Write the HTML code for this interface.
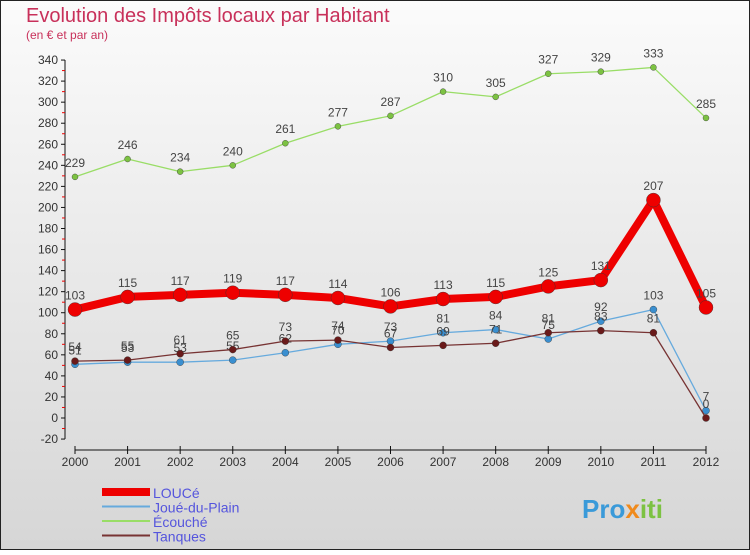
<!DOCTYPE html>
<html><head><meta charset="utf-8"><style>
body{margin:0;width:750px;height:550px;overflow:hidden;font-family:"Liberation Sans",sans-serif}
</style></head><body>
<svg width="750" height="550" xmlns="http://www.w3.org/2000/svg">
<defs><linearGradient id="bg" x1="0" y1="0" x2="0" y2="1"><stop offset="0" stop-color="#fbfbfb"/><stop offset="1" stop-color="#d6d6d6"/></linearGradient></defs>
<rect x="0.5" y="0.5" width="749" height="549" fill="url(#bg)" stroke="#222"/>
<text x="26" y="22" font-size="20" fill="#c8305a">Evolution des Impôts locaux par Habitant</text>
<text x="26" y="39" font-size="12" fill="#c8305a">(en € et par an)</text>
<g id="axes"></g><g id="series"></g><g id="legend"></g>
<text x="582" y="518" font-size="26" font-weight="bold" fill="#3a9ad9">Pro<tspan fill="#f08a1c">x</tspan><tspan fill="#7cc242">iti</tspan></text>
</svg>
<script>
const years=["2000","2001","2002","2003","2004","2005","2006","2007","2008","2009","2010","2011","2012"];
const yTicks=[-20,0,20,40,60,80,100,120,140,160,180,200,220,240,260,280,300,320,340];
const loucE=[103,115,117,119,117,114,106,113,115,125,131,207,105];
const joue=[51,53,53,55,62,70,73,81,84,75,92,103,7];
const ecouche=[229,246,234,240,261,277,287,310,305,327,329,333,285];
const tanques=[54,55,61,65,73,74,67,69,71,81,83,81,0];
const NS="http://www.w3.org/2000/svg";
const X=i=>75+i*(706-75)/12;
const Y=v=>418-v*1.0528;
function mk(t,a,p,txt){const e=document.createElementNS(NS,t);for(const k in a)e.setAttribute(k,a[k]);if(txt!==undefined)e.textContent=txt;p.appendChild(e);return e;}
const ax=document.getElementById('axes');
let e=mk('line',{x1:65,y1:Y(340),x2:65,y2:Y(-20),stroke:'#111'},ax);

e=mk('line',{x1:X(0),y1:450,x2:X(12),y2:450,stroke:'#111'},ax);

yTicks.forEach(v=>{mk('line',{x1:61,y1:Y(v),x2:65,y2:Y(v),stroke:'#111'},ax);
 if(v<340)mk('line',{x1:62,y1:Y(v+10),x2:65,y2:Y(v+10),stroke:'#e00'},ax);
 e=mk('text',{x:58,y:Y(v)+4,'font-size':12,fill:'#333','text-anchor':'end'},ax,v);
 });
years.forEach((y,i)=>{mk('line',{x1:X(i),y1:446,x2:X(i),y2:454,stroke:'#111'},ax);
 e=mk('text',{x:X(i),y:466,'font-size':12,fill:'#333','text-anchor':'middle'},ax,y);
 });
const sg=document.getElementById('series');
function series(d,col,w,r,name,dot){const g=mk('g',{},sg);
 
 mk('polyline',{points:d.map((v,i)=>X(i)+','+Y(v)).join(' '),fill:'none',stroke:col,'stroke-width':w,'stroke-linejoin':'round'},g);
 d.forEach((v,i)=>{const c=mk('circle',{cx:X(i),cy:Y(v),r:r,fill:dot,stroke:'#333','stroke-width':0.4},g);
 
 const t=mk('text',{x:X(i),y:Y(v)-10,'font-size':12,fill:'#444','text-anchor':'middle'},g,v);
 });}
series(ecouche,'#99dd66',1.3,3,'ecouche','#7cc242');
series(joue,'#66aadd',1.3,3.5,'joue-du-plain','#3a8fd0');
series(tanques,'#773333',1.3,3.5,'tanques','#6a1a1a');
series(loucE,'#ee0000',8,7,'loucE','#ee0000');
const lg=document.getElementById('legend');
[['LOUCé','#ee0000',8],['Joué-du-Plain','#66aadd',2],['Écouché','#99dd66',2],['Tanques','#773333',2]].forEach((l,i)=>{
 const y=492+i*14.5;const g=mk('g',{},lg);
 
 mk('line',{x1:102,y1:y,x2:150,y2:y,stroke:l[1],'stroke-width':l[2]},g);
 mk('text',{x:153,y:y+6,'font-size':14,fill:'#5555dd'},g,l[0]);});
</script>
</body></html>
